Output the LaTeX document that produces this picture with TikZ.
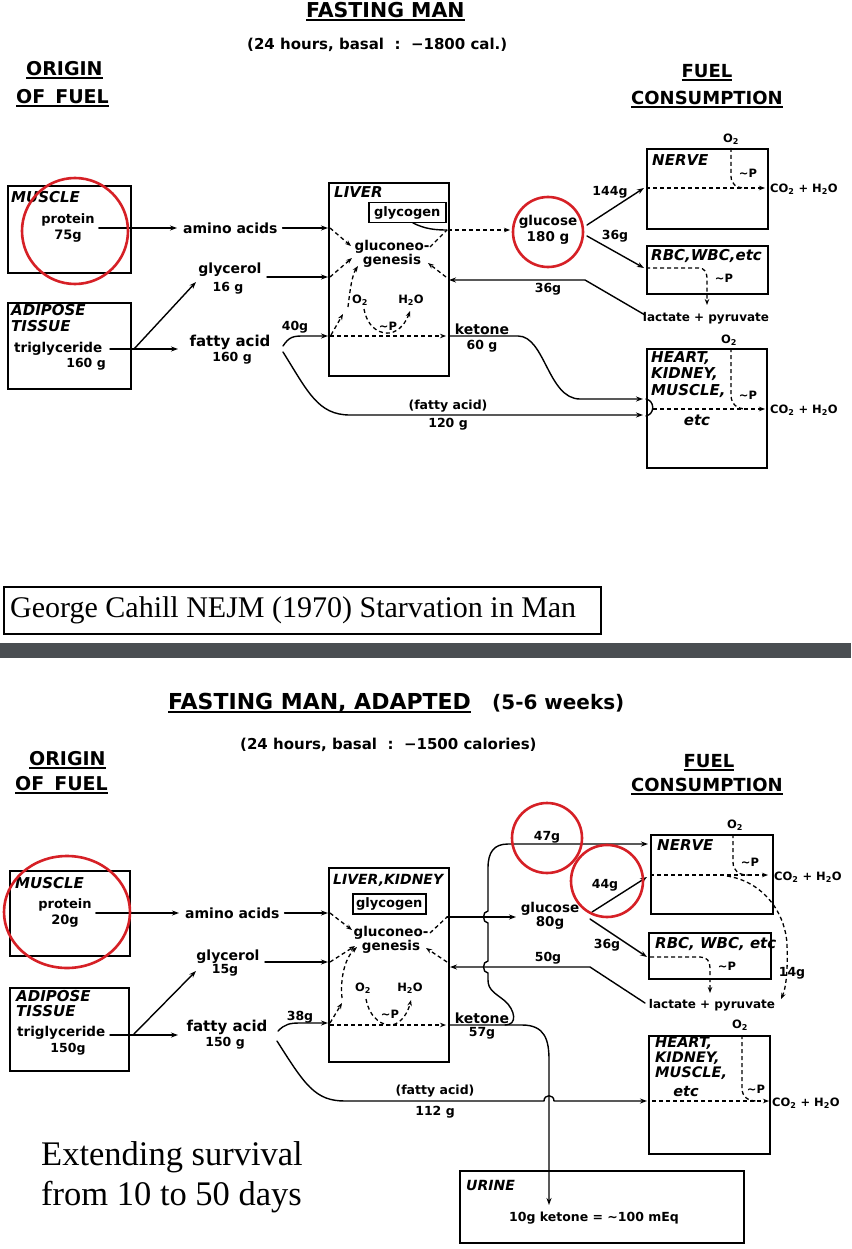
\documentclass[tikz,border=0pt]{standalone}
\usepackage{fontspec}
\setmainfont{DejaVu Sans}
\newfontfamily\tms{Liberation Serif}
\usetikzlibrary{arrows.meta,calc}
\definecolor{redc}{RGB}{214,32,38}
\definecolor{bandc}{RGB}{74,78,82}
\newcommand\ulx[1]{\setbox0=\hbox{#1}\rlap{\rule[-3.5pt]{\wd0}{2pt}}\box0}
\newcommand\fsz[2]{\fontsize{#1}{#2}\selectfont}
\newcommand\sbx[1]{\textsubscript{#1}}
\newcommand\tP{\textasciitilde P}
\tikzset{
 ln/.style={line width=1.4pt, line cap=round, line join=round},
 arr/.style={ln, -{Stealth[length=7pt,width=5pt]}},
 dl/.style={line width=1.3pt, dash pattern=on 4pt off 3pt},
 darr/.style={dl, -{Stealth[length=6pt,width=4.5pt]}},
 box/.style={draw, line width=2.2pt, inner sep=0pt, anchor=north west},
 lb/.style={inner sep=0pt, font=\fsz{14}{16}\bfseries, align=center},
 nm/.style={inner sep=0pt, font=\fsz{12.5}{14}\bfseries, align=center},
 sm/.style={inner sep=0pt, font=\fsz{11.5}{13}\bfseries, align=center},
 bl/.style={inner sep=0pt, anchor=west, font=\fsz{15}{17}\bfseries\itshape},
 bln/.style={inner sep=0pt, anchor=north west, font=\fsz{15}{16.5}\bfseries\itshape, align=left},
 hd/.style={inner sep=0pt, font=\fsz{19}{21}\bfseries},
 sb/.style={inner sep=0pt, anchor=west, font=\fsz{15}{17}\bfseries},
 rc/.style={draw=redc, line width=2.6pt},
}
\begin{document}
\begin{tikzpicture}[x=1pt,y=-1pt]
\fill[white] (0,0) rectangle (851,1249);
\useasboundingbox (0,0) rectangle (851,1249);
\fill[bandc] (0,643) rectangle (851,658);

%================ TOP DIAGRAM ================
\node[hd, font=\fsz{20.5}{22}\bfseries, anchor=west] (title1) at (306,12) {\ulx{FASTING MAN}};
\node[sb] (sub1) at (247,45) {(24 hours, basal\ \ :\ \ −1800 cal.)};
\node[hd, anchor=west] (orig1) at (26,70) {\ulx{ORIGIN}};
\node[hd, anchor=west] (orig1b) at (16,98) {\ulx{OF\hspace{10pt}FUEL}};
\node[hd, font=\fsz{18}{20}\bfseries] (fc1) at (707,73) {\ulx{FUEL}};
\node[hd, font=\fsz{18}{20}\bfseries] (fc1b) at (707,100) {\ulx{CONSUMPTION}};

\node[box, minimum width=123pt, minimum height=87pt] (mus1) at (7,185) {};
\node[bl] (mus1l) at (11,197) {MUSCLE};
\node[nm, font=\fsz{13}{16}\bfseries] (prot1) at (68,228) {protein\\75g};
\node[box, minimum width=123pt, minimum height=86pt] (adi1) at (7,302) {};
\node[bln] (adi1l) at (11,304) {ADIPOSE\\TISSUE};
\node[lb, font=\fsz{13.5}{16}\bfseries, anchor=west] (trig1) at (14,349) {triglyceride};
\node[nm] (trig1v) at (86,364) {160 g};

\node[lb, anchor=west] (amino1) at (183,228) {amino acids};
\node[lb] (glyc1) at (230,270) {glycerol};
\node[nm] (glyc1v) at (228,288) {16 g};
\node[lb, font=\fsz{15}{17}\bfseries] (fa1) at (230,342) {fatty acid};
\node[nm] (fa1v) at (232,358) {160 g};
\node[nm] (g40) at (295,327) {40g};

\node[box, minimum width=120pt, minimum height=193pt] (liv1) at (328,182) {};
\node[bl] (liv1l) at (334,192) {LIVER};
\node[draw, line width=1.5pt, inner sep=0pt, anchor=north west, minimum width=77pt, minimum height=20pt, font=\fsz{13}{15}\bfseries] (gly1) at (368,202) {glycogen};
\node[lb, font=\fsz{13.5}{13}\bfseries] (gng1) at (392,254) {gluconeo-\\genesis};
\node[sm] (o2a) at (360,300) {O\sbx{2}};
\node[sm] (h2oa) at (411,300) {H\sbx{2}O};
\node[sm] (pa) at (388,326) {\tP};
\node[lb] (ket1) at (482,329) {ketone};
\node[nm] (ket1v) at (482,346) {60 g};
\node[nm] (fah1) at (448,406) {(fatty acid)};
\node[nm] (fah1v) at (448,424) {120 g};
\node[lb, font=\fsz{13.5}{16}\bfseries] (glu1) at (548,230) {glucose\\180 g};
\node[nm] (g144) at (610,192) {144g};
\node[nm] (g36a) at (615,236) {36g};
\node[nm] (g36b) at (548,289) {36g};

\node[box, minimum width=121pt, minimum height=80pt] (ner1) at (646,148) {};
\node[bl] (ner1l) at (652,160) {NERVE};
\node[sm] (o2n1) at (731,139) {O\sbx{2}};
\node[sm] (pn1) at (748,173) {\tP};
\node[sm, anchor=west] (co1) at (770,189) {CO\sbx{2} + H\sbx{2}O};
\node[box, minimum width=121pt, minimum height=48pt] (rbc1) at (646,245) {};
\node[bl] (rbc1l) at (651,256) {RBC,WBC,etc};
\node[sm] (pr1) at (724,278) {\tP};
\node[sm, font=\fsz{12}{14}\bfseries] (lac1) at (706,318) {lactate + pyruvate};
\node[box, minimum width=120pt, minimum height=119pt] (hrt1) at (646,348) {};
\node[bln] (hrt1l) at (651,351) {HEART,\\KIDNEY,\\MUSCLE,};
\node[bl, anchor=center] (etc1) at (697,420) {etc};
\node[sm] (o2h1) at (729,340) {O\sbx{2}};
\node[sm] (ph1) at (748,395) {\tP};
\node[sm, anchor=west] (co1b) at (770,410) {CO\sbx{2} + H\sbx{2}O};

% top connectors
\draw[arr] ([xshift=4pt]prot1.east) -- ([xshift=-6pt]amino1.west);
\draw[arr] ([xshift=5pt]amino1.east) -- (amino1.east -| liv1.west);
\draw[arr] (267,277) -- (328,277);
\draw[arr] (110,349) -- (178,349);
\draw[arr] (134,349) -- (196,282);
\draw[arr] (283,346) .. controls (289,337) and (293,336) .. (303,336) -- (328,336);
\draw[arr] (283,352) .. controls (308,392) and (318,415) .. (350,415) -- (643,415);
\draw[arr] (449,336) -- (518,336) .. controls (545,336) and (548,399) .. (580,399) -- (643,399);
\draw[ln] (646,399) .. controls (655,401) and (655,414) .. (646,416);
\draw[ln] (413,223) .. controls (425,229) and (435,230) .. (447,230);
\draw[darr] (448,230) -- (510,230);
\draw[dl] (430,247) -- (447,230);
\draw[darr] (330,228) -- (351,246);
\draw[darr] (330,277) -- (352,258);
\draw[darr] (446,277) -- (428,263);
\draw[arr] (645,315) -- (585,280) -- (449,280);
\draw[arr] (587,225) -- (644,188);
\draw[arr] (587,236) -- (644,268);
\draw[darr] (331,335) -- (343,314);
\draw[darr] (348,307) .. controls (350,290) and (352,275) .. (358,266);
\draw[darr] (364,309) .. controls (368,330) and (382,334) .. (390,333) .. controls (400,331) and (406,322) .. (410,311);
\draw[darr] (330,336) -- (446,336);
\draw[darr] (646,188) -- (765,188);
\draw[dl] (731,148) -- (731,176) .. controls (731,184) and (736,188) .. (745,188);
\draw[darr] (646,268) -- (698,268) .. controls (705,268) and (707,272) .. (707,280) -- (707,305);
\draw[darr] (653,409) -- (765,409);
\draw[dl] (731,348) -- (731,395) .. controls (731,404) and (737,409) .. (746,409);

\draw[rc] (75,231) circle[radius=53];
\draw[rc] (548,232) circle[radius=35];

% caption
\node[draw, line width=1.6pt, anchor=north west, minimum width=597pt, minimum height=47pt, inner sep=0pt] (cap) at (3,586) {};
\node[anchor=west, inner sep=0pt, font=\tms\fsz{30}{32}] (capt) at (10,610) {George Cahill NEJM (1970) Starvation in Man};

%================ BOTTOM DIAGRAM ================
\node[hd, font=\fsz{22}{24}\bfseries, anchor=west] (title2) at (168,703) {\ulx{FASTING MAN, ADAPTED}};
\node[inner sep=0pt, font=\fsz{20}{22}\bfseries, anchor=west] (title2b) at (492,703) {(5-6 weeks)};
\node[sb] (sub2) at (240,745) {(24 hours, basal\ \ :\ \ −1500 calories)};
\node[hd, anchor=west] (orig2) at (29,760) {\ulx{ORIGIN}};
\node[hd, anchor=west] (orig2b) at (15,785) {\ulx{OF\hspace{10pt}FUEL}};
\node[hd, font=\fsz{18}{20}\bfseries] (fc2) at (709,763) {\ulx{FUEL}};
\node[hd, font=\fsz{18}{20}\bfseries] (fc2b) at (707,787) {\ulx{CONSUMPTION}};

\node[box, minimum width=120pt, minimum height=85pt] (mus2) at (9,870) {};
\node[bl] (mus2l) at (15,883) {MUSCLE};
\node[nm, font=\fsz{13}{16}\bfseries] (prot2) at (65,913) {protein\\20g};
\node[box, minimum width=119pt, minimum height=83pt] (adi2) at (9,987) {};
\node[bln, font=\fsz{15}{15.5}\bfseries\itshape] (adi2l) at (16,990) {ADIPOSE\\TISSUE};
\node[lb, font=\fsz{13.5}{16}\bfseries, anchor=west] (trig2) at (17,1033) {triglyceride};
\node[nm] (trig2v) at (68,1049) {150g};

\node[lb, anchor=west] (amino2) at (185,913) {amino acids};
\node[lb] (glyc2) at (228,957) {glycerol};
\node[nm] (glyc2v) at (225,970) {15g};
\node[lb, font=\fsz{15}{17}\bfseries] (fa2) at (227,1027) {fatty acid};
\node[nm] (fa2v) at (225,1043) {150 g};
\node[nm] (g38) at (300,1017) {38g};

\node[box, minimum width=120pt, minimum height=194pt] (liv2) at (328,867) {};
\node[bl, font=\fsz{14}{16}\bfseries\itshape] (liv2l) at (333,880) {LIVER,KIDNEY};
\node[draw, line width=1.5pt, inner sep=0pt, anchor=north west, minimum width=73pt, minimum height=20pt, font=\fsz{13}{15}\bfseries] (gly2) at (352,893) {glycogen};
\node[lb, font=\fsz{13.5}{14}\bfseries] (gng2) at (391,940) {gluconeo-\\genesis};
\node[sm] (o2b) at (363,988) {O\sbx{2}};
\node[sm] (h2ob) at (410,988) {H\sbx{2}O};
\node[sm] (pb) at (390,1014) {\tP};
\node[lb] (ket2) at (482,1018) {ketone};
\node[nm] (ket2v) at (482,1033) {57g};
\node[lb, font=\fsz{13.5}{14}\bfseries] (glu2) at (550,916) {glucose\\80g};
\node[nm] (g47) at (547,837) {47g};
\node[nm] (g44) at (605,885) {44g};
\node[nm] (g36c) at (607,945) {36g};
\node[nm] (g50) at (548,958) {50g};
\node[nm] (fah2) at (435,1091) {(fatty acid)};
\node[nm] (fah2v) at (435,1112) {112 g};

\node[box, minimum width=122pt, minimum height=79pt] (ner2) at (650,834) {};
\node[bl] (ner2l) at (657,845) {NERVE};
\node[sm] (o2n2) at (735,825) {O\sbx{2}};
\node[sm] (pn2) at (750,862) {\tP};
\node[sm, anchor=west] (co2) at (774,877) {CO\sbx{2} + H\sbx{2}O};
\node[box, minimum width=122pt, minimum height=46pt] (rbc2) at (648,932) {};
\node[bl] (rbc2l) at (655,944) {RBC, WBC, etc};
\node[sm] (pr2) at (727,966) {\tP};
\node[sm, font=\fsz{12}{14}\bfseries] (lac2) at (712,1005) {lactate + pyruvate};
\node[nm] (g14) at (792,973) {14g};
\node[box, minimum width=121pt, minimum height=118pt] (hrt2) at (648,1035) {};
\node[bln, font=\fsz{14.5}{15}\bfseries\itshape] (hrt2l) at (655,1037) {HEART,\\KIDNEY,\\MUSCLE,};
\node[bl, anchor=center, font=\fsz{14.5}{15}\bfseries\itshape] (etc2) at (686,1091) {etc};
\node[sm] (o2h2) at (740,1025) {O\sbx{2}};
\node[sm] (ph2) at (756,1089) {\tP};
\node[sm, anchor=west] (co2b) at (772,1103) {CO\sbx{2} + H\sbx{2}O};

\node[draw, line width=1.7pt, inner sep=0pt, anchor=north west, minimum width=284pt, minimum height=72pt] (uri) at (459,1170) {};
\node[bl, font=\fsz{14}{15}\bfseries\itshape] (uril) at (466,1185) {URINE};
\node[inner sep=0pt, font=\fsz{12.5}{14}\bfseries] (urt) at (594,1218) {10g ketone = \textasciitilde 100 mEq};

\node[anchor=west, inner sep=0pt, align=left, font=\tms\fsz{34.5}{40}] (ext) at (41,1177) {Extending survival\\from 10 to 50 days};

% bottom connectors
\draw[arr] ([xshift=4pt]prot2.east) -- ([xshift=-6pt]amino2.west);
\draw[arr] ([xshift=5pt]amino2.east) -- (amino2.east -| liv2.west);
\draw[arr] (265,962) -- (328,962);
\draw[arr] (110,1035) -- (178,1035);
\draw[arr] (133,1035) -- (196,971);
\draw[arr] (278,1031) .. controls (285,1024) and (290,1023) .. (300,1023) -- (328,1023);
\draw[arr] (277,1041) .. controls (305,1085) and (315,1101) .. (345,1101) -- (544,1101) .. controls (544,1094) and (554,1094) .. (554,1101) -- (647,1101);
\draw[darr] (330,913) -- (352,930);
\draw[darr] (330,962) -- (355,946);
\draw[dl] (430,933) -- (447,917);
\draw[arr] (447,917) -- (516,917);
\draw[arr] (592,912) -- (647,877);
\draw[arr] (590,919) -- (647,957);
\draw[arr] (645,1003) -- (590,967) -- (450,967);
\draw[darr] (447,962) -- (426,948);
\draw[darr] (330,1023) -- (342,1003);
\draw[darr] (342,998) .. controls (340,978) and (345,958) .. (357,947);
\draw[darr] (366,999) .. controls (370,1020) and (384,1026) .. (392,1025) .. controls (402,1023) and (408,1012) .. (411,1000);
\draw[darr] (330,1025) -- (446,1025);
\draw[arr] (449,1025) -- (505,1025) .. controls (518,1025) and (515,1010) .. (505,1001) .. controls (495,993) and (488,990) .. (488,980) -- (488,973) .. controls (482,973) and (482,961) .. (488,961) -- (488,923) .. controls (482,923) and (482,911) .. (488,911) -- (488,868) .. controls (488,852) and (494,844) .. (508,844) -- (648,844);
\draw[arr] (505,1025) -- (522,1025) .. controls (545,1025) and (549,1040) .. (549,1060) -- (549,1205);
\draw[darr] (650,875) -- (768,875);
\draw[dl] (733,834) -- (733,862) .. controls (733,871) and (739,875) .. (748,875);
\draw[darr] (727,876) .. controls (765,882) and (786,915) .. (787,945) .. controls (788,970) and (786,988) .. (781,999);
\draw[darr] (650,957) -- (700,957) .. controls (707,957) and (710,961) .. (710,968) -- (710,993);
\draw[darr] (652,1101) -- (769,1101);
\draw[dl] (742,1035) -- (742,1088) .. controls (742,1097) and (748,1101) .. (757,1101);

\draw[rc] (67,912) ellipse[x radius=63, y radius=56];
\draw[rc] (547,838) circle[radius=35];
\draw[rc] (607,881) circle[radius=36];
\end{tikzpicture}
\end{document}
